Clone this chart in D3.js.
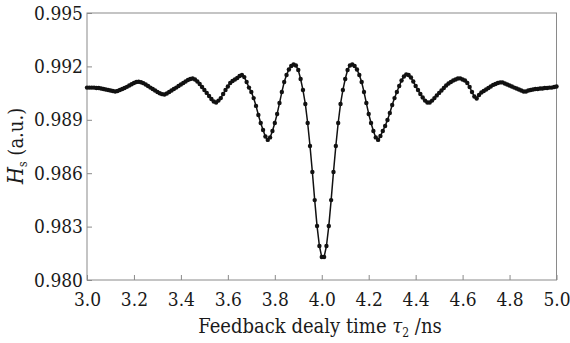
<!DOCTYPE html>
<html>
<head>
<meta charset="utf-8">
<script src="https://cdn.jsdelivr.net/npm/d3@7/dist/d3.min.js"></script>
<style>
  html, body { margin: 0; padding: 0; background: #fff; }
  svg { display: block; }
  text { font-family: "DejaVu Serif", serif; font-stretch: condensed; fill: #1a1a1a; }
</style>
</head>
<body>
<svg id="chart" width="570" height="343"></svg>
<script>
// Feedback delay time tau2 (ns)
const tau = [
  3.00,3.01,3.02,3.03,3.04,3.05,3.06,3.07,3.08,3.09,
  3.10,3.11,3.12,3.13,3.14,3.15,3.16,3.17,3.18,3.19,
  3.20,3.21,3.22,3.23,3.24,3.25,3.26,3.27,3.28,3.29,
  3.30,3.31,3.32,3.33,3.34,3.35,3.36,3.37,3.38,3.39,
  3.40,3.41,3.42,3.43,3.44,3.45,3.46,3.47,3.48,3.49,
  3.50,3.51,3.52,3.53,3.54,3.55,3.56,3.57,3.58,3.59,
  3.60,3.61,3.62,3.63,3.64,3.65,3.66,3.67,3.68,3.69,
  3.70,3.71,3.72,3.73,3.74,3.75,3.76,3.77,3.78,3.79,
  3.80,3.81,3.82,3.83,3.84,3.85,3.86,3.87,3.88,3.89,
  3.90,3.91,3.92,3.93,3.94,3.95,3.96,3.97,3.98,3.99,
  4.00,4.01,4.02,4.03,4.04,4.05,4.06,4.07,4.08,4.09,
  4.10,4.11,4.12,4.13,4.14,4.15,4.16,4.17,4.18,4.19,
  4.20,4.21,4.22,4.23,4.24,4.25,4.26,4.27,4.28,4.29,
  4.30,4.31,4.32,4.33,4.34,4.35,4.36,4.37,4.38,4.39,
  4.40,4.41,4.42,4.43,4.44,4.45,4.46,4.47,4.48,4.49,
  4.50,4.51,4.52,4.53,4.54,4.55,4.56,4.57,4.58,4.59,
  4.60,4.61,4.62,4.63,4.64,4.65,4.66,4.67,4.68,4.69,
  4.70,4.71,4.72,4.73,4.74,4.75,4.76,4.77,4.78,4.79,
  4.80,4.81,4.82,4.83,4.84,4.85,4.86,4.87,4.88,4.89,
  4.90,4.91,4.92,4.93,4.94,4.95,4.96,4.97,4.98,4.99,
  5.00
];
// Hs (a.u.)
const hs = [
  0.99081,0.99081,0.99081,0.99081,0.99079,0.99079,0.99076,0.99073,0.99070,0.99067,
  0.99065,0.99062,0.99059,0.99062,0.99067,0.99073,0.99079,0.99085,0.99093,0.99100,
  0.99107,0.99112,0.99114,0.99111,0.99106,0.99098,0.99090,0.99081,0.99073,0.99065,
  0.99056,0.99049,0.99044,0.99042,0.99048,0.99056,0.99065,0.99073,0.99081,0.99090,
  0.99098,0.99107,0.99115,0.99124,0.99129,0.99132,0.99126,0.99115,0.99101,0.99084,
  0.99067,0.99051,0.99034,0.99017,0.99003,0.98997,0.99008,0.99022,0.99045,0.99067,
  0.99087,0.99107,0.99118,0.99126,0.99135,0.99146,0.99152,0.99140,0.99112,0.99081,
  0.99056,0.99022,0.98978,0.98927,0.98882,0.98843,0.98806,0.98787,0.98801,0.98837,
  0.98882,0.98933,0.98994,0.99056,0.99112,0.99152,0.99183,0.99202,0.99211,0.99205,
  0.99180,0.99129,0.99067,0.98989,0.98882,0.98753,0.98607,0.98449,0.98303,0.98191,
  0.98129,0.98129,0.98191,0.98303,0.98449,0.98607,0.98753,0.98882,0.98989,0.99067,
  0.99129,0.99180,0.99205,0.99211,0.99202,0.99183,0.99152,0.99112,0.99056,0.98994,
  0.98933,0.98882,0.98837,0.98801,0.98787,0.98809,0.98837,0.98865,0.98899,0.98938,
  0.98983,0.99022,0.99056,0.99090,0.99121,0.99143,0.99155,0.99152,0.99138,0.99115,
  0.99090,0.99067,0.99045,0.99025,0.99008,0.98997,0.98997,0.99008,0.99022,0.99037,
  0.99051,0.99065,0.99079,0.99093,0.99104,0.99112,0.99121,0.99126,0.99132,0.99133,
  0.99126,0.99121,0.99107,0.99084,0.99056,0.99031,0.99020,0.99039,0.99053,0.99062,
  0.99070,0.99079,0.99087,0.99096,0.99101,0.99107,0.99110,0.99110,0.99104,0.99098,
  0.99093,0.99087,0.99081,0.99076,0.99070,0.99065,0.99059,0.99059,0.99065,0.99067,
  0.99070,0.99073,0.99073,0.99076,0.99076,0.99079,0.99079,0.99081,0.99081,0.99084,
  0.99087
];
const xTicks = [3.0, 3.2, 3.4, 3.6, 3.8, 4.0, 4.2, 4.4, 4.6, 4.8, 5.0];
const yTicks = [0.980, 0.983, 0.986, 0.989, 0.992, 0.995];

const svg = d3.select("#chart");
const m = { left: 87, right: 556.5, top: 13, bottom: 280 };

const x = d3.scaleLinear().domain([3.0, 5.0]).range([m.left, m.right]);
const y = d3.scaleLinear().domain([0.980, 0.995]).range([m.bottom, m.top]);

const data = tau.map((t, i) => ({ t, v: hs[i] }));

// frame
svg.append("rect")
  .attr("x", m.left).attr("y", m.top)
  .attr("width", m.right - m.left).attr("height", m.bottom - m.top)
  .attr("fill", "none").attr("stroke", "#8a8a8a").attr("stroke-width", 1);

// x axis (ticks inward)
const xAxis = svg.append("g")
  .attr("transform", `translate(0,${m.bottom})`)
  .call(d3.axisBottom(x).tickValues(xTicks).tickSize(-5).tickPadding(13)
    .tickFormat(d3.format(".1f")));
xAxis.select(".domain").remove();
xAxis.selectAll(".tick line").attr("stroke", "#8a8a8a");
xAxis.selectAll(".tick text").style("font-size", "19px").attr("fill", "#1a1a1a")
  .style("font-family", "'DejaVu Serif', serif");

// y axis (ticks inward)
const yAxis = svg.append("g")
  .attr("transform", `translate(${m.left},0)`)
  .call(d3.axisLeft(y).tickValues(yTicks).tickSize(-5).tickPadding(4)
    .tickFormat(d3.format(".3f")));
yAxis.select(".domain").remove();
yAxis.selectAll(".tick line").attr("stroke", "#8a8a8a");
yAxis.selectAll(".tick text").style("font-size", "19px").attr("fill", "#1a1a1a")
  .style("font-family", "'DejaVu Serif', serif");

// line
svg.append("path")
  .datum(data)
  .attr("fill", "none")
  .attr("stroke", "#111")
  .attr("stroke-width", 1.5)
  .attr("d", d3.line().x(d => x(d.t)).y(d => y(d.v)));

// markers
svg.append("g").selectAll("circle")
  .data(data)
  .join("circle")
  .attr("cx", d => x(d.t))
  .attr("cy", d => y(d.v))
  .attr("r", 2.2)
  .attr("fill", "#111");

// x label
const xl = svg.append("text")
  .attr("x", 320).attr("y", 333)
  .attr("text-anchor", "middle")
  .style("font-size", "20px");
xl.append("tspan").text("Feedback dealy time ");
xl.append("tspan").attr("font-style", "italic").text("τ");
xl.append("tspan").attr("dy", 4).style("font-size", "12px").text("2");
xl.append("tspan").attr("dy", -4).text(" /ns");

// y label
const yl = svg.append("text")
  .attr("transform", "translate(23,146) rotate(-90)")
  .attr("text-anchor", "middle")
  .style("font-size", "20px");
yl.append("tspan").attr("font-style", "italic").style("font-size", "22px").text("H");
yl.append("tspan").attr("dy", 4).style("font-size", "12px").text("s");
yl.append("tspan").attr("dy", -4).text(" (a.u.)");
</script>
</body>
</html>
